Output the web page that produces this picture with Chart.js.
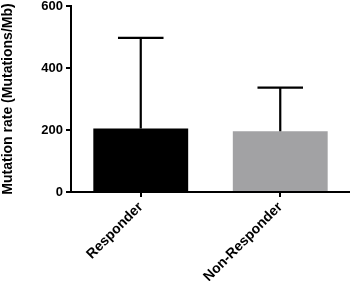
<!DOCTYPE html>
<html>
<head>
<meta charset="utf-8">
<script src="https://cdn.jsdelivr.net/npm/chart.js@4/dist/chart.umd.min.js"></script>
<style>
html,body{margin:0;padding:0;background:#fff;}
#wrap{width:350px;height:281px;position:relative;}
</style>
</head>
<body>
<div id="wrap"><canvas id="c" width="350" height="281"></canvas></div>
<script>
const categories = ["Responder", "Non-Responder"];
const meanValues = [205, 196];
const upperError = [497, 337];
const yTicks = [0, 200, 400, 600];
const barColors = ["#000000", "#a2a2a4"];

const errorBarPlugin = {
  id: 'errorBars',
  afterDatasetsDraw(chart) {
    const ctx = chart.ctx;
    const meta = chart.getDatasetMeta(0);
    const y = chart.scales.y;
    ctx.save();
    ctx.strokeStyle = '#000';
    ctx.lineWidth = 2.2;
    meta.data.forEach((bar, i) => {
      const x = bar.x;
      const yTop = y.getPixelForValue(upperError[i]);
      const yBar = y.getPixelForValue(meanValues[i]);
      const half = bar.width * 0.24;
      ctx.beginPath();
      ctx.moveTo(x, yBar);
      ctx.lineTo(x, yTop);
      ctx.moveTo(x - half, yTop);
      ctx.lineTo(x + half, yTop);
      ctx.stroke();
    });
    ctx.restore();
  }
};

const fam = "'Liberation Sans', Arial, sans-serif";
const tickFont = {family: fam, size: 13, weight: 'bold'};
const labelFont = {family: fam, size: 14, weight: 'bold'};

new Chart(document.getElementById('c'), {
  type: 'bar',
  data: {
    labels: categories,
    datasets: [{
      data: meanValues,
      backgroundColor: barColors,
      borderWidth: 0,
      barPercentage: 0.68,
      categoryPercentage: 1.0
    }]
  },
  options: {
    responsive: false,
    animation: false,
    layout: {padding: {top: 6, right: 0, bottom: 0, left: 0}},
    plugins: {legend: {display: false}, tooltip: {enabled: false}},
    scales: {
      x: {
        offset: true,
        afterFit(s) { s.height = 89; s.paddingRight = 0; },
        grid: {offset: false, drawOnChartArea: false, tickLength: 5, color: '#000', lineWidth: 2},
        border: {color: '#000', width: 2},
        ticks: {color: '#000', font: labelFont, maxRotation: 45, minRotation: 45, padding: 2}
      },
      y: {
        min: 0, max: 600,
        afterFit(s) { s.width = 71; s.paddingTop = 0; s.paddingBottom = 0; },
        afterBuildTicks(s) { s.ticks = yTicks.map(v => ({value: v})); },
        grid: {drawOnChartArea: false, tickLength: 5, color: '#000', lineWidth: 2},
        border: {color: '#000', width: 2},
        ticks: {color: '#000', font: tickFont, padding: 3},
        title: {display: true, text: 'Mutation rate (Mutations/Mb)', color: '#000', font: labelFont, padding: {top: 0, bottom: 2}}
      }
    }
  },
  plugins: [errorBarPlugin]
});
</script>
</body>
</html>
